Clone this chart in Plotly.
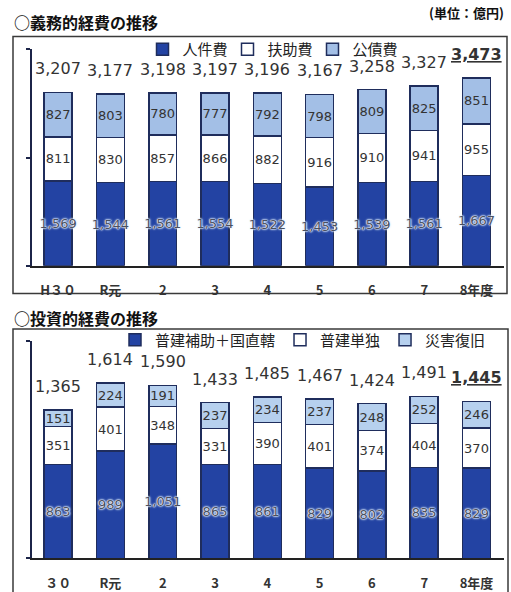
import plotly.graph_objects as go

# ---- data ----
cats_top = ["H３０", "R元", "2", "3", "4", "5", "6", "7", "8年度"]
jinkenhi = [1569, 1544, 1561, 1554, 1522, 1453, 1539, 1561, 1667]
fujohi = [811, 830, 857, 866, 882, 916, 910, 941, 955]
kosaihi = [827, 803, 780, 777, 792, 798, 809, 825, 851]
totals_top = [3207, 3177, 3198, 3197, 3196, 3167, 3258, 3327, 3473]

cats_bot = ["３０", "R元", "2", "3", "4", "5", "6", "7", "8年度"]
hojo = [863, 989, 1051, 865, 861, 829, 802, 835, 829]
tandoku = [351, 401, 348, 331, 390, 401, 374, 404, 370]
saigai = [151, 224, 191, 237, 234, 237, 248, 252, 246]
totals_bot = [1365, 1614, 1590, 1433, 1485, 1467, 1424, 1491, 1445]

# ---- styles ----
W, H = 511, 592
DARK = "#2343a3"
LIGHT_TOP = "#a3bfe6"
LIGHT_BOT = "#b6d0ee"
EDGE = "#1f2d5c"
NUM_FONT = "DejaVu Sans"
JP_FONT = "Noto Sans CJK JP"

def px_x(p):
    return p / W

def px_y(p):
    return (H - p) / H

def fmt(vals):
    return [f"{v:,}" for v in vals]

glow = ("0px 0px 1px #f0f6ff, 0px 0px 1px #f0f6ff, 0px 0px 2px #e4efff, "
        "0px 0px 2px #e4efff, 0px 0px 3px #cfe2ff")

def seg(name, x, y, color, xa, ya, legend, dark=False):
    return go.Bar(
        name=name, x=x, y=y, xaxis=xa, yaxis=ya, legend=legend,
        marker=dict(color=color, line=dict(color=EDGE, width=1.5)),
        text=fmt(y), textposition="inside", insidetextanchor="middle",
        constraintext="none", textangle=0,
        textfont=dict(family=NUM_FONT, size=13,
                      color="#4a5060" if dark else "#333333",
                      shadow=glow if dark else "none"),
        hoverinfo="skip",
    )

fig = go.Figure()
fig.add_trace(seg("人件費", cats_top, jinkenhi, DARK, "x", "y", "legend", True))
fig.add_trace(seg("扶助費", cats_top, fujohi, "#ffffff", "x", "y", "legend"))
fig.add_trace(seg("公債費", cats_top, kosaihi, LIGHT_TOP, "x", "y", "legend"))
fig.add_trace(seg("普建補助＋国直轄", cats_bot, hojo, DARK, "x2", "y2", "legend2", True))
fig.add_trace(seg("普建単独", cats_bot, tandoku, "#ffffff", "x2", "y2", "legend2"))
fig.add_trace(seg("災害復旧", cats_bot, saigai, LIGHT_BOT, "x2", "y2", "legend2"))

annotations = []
for i, (c, t) in enumerate(zip(cats_top, totals_top)):
    txt = f"{t:,}"
    if i == len(cats_top) - 1:
        txt = f"<b><u>{txt}</u></b>"
    annotations.append(dict(x=c, y=t, xref="x", yref="y", text=txt, showarrow=False,
                            yanchor="bottom", yshift=12,
                            font=dict(family=NUM_FONT, size=16, color="#333333")))
for i, (c, t) in enumerate(zip(cats_bot, totals_bot)):
    txt = f"{t:,}"
    if i == len(cats_bot) - 1:
        txt = f"<b><u>{txt}</u></b>"
    annotations.append(dict(x=c, y=t, xref="x2", yref="y2", text=txt, showarrow=False,
                            yanchor="bottom", yshift=12,
                            font=dict(family=NUM_FONT, size=16, color="#333333")))

annotations += [
    dict(x=px_x(12), y=px_y(22), xref="paper", yref="paper", xanchor="left", yanchor="middle",
         text="<b>○義務的経費の推移</b>", showarrow=False,
         font=dict(family=JP_FONT, size=16, color="#111111")),
    dict(x=px_x(506), y=px_y(13), xref="paper", yref="paper", xanchor="right", yanchor="middle",
         text="<b>(単位：億円)</b>", showarrow=False,
         font=dict(family=JP_FONT, size=13, color="#111111")),
    dict(x=px_x(12), y=px_y(322), xref="paper", yref="paper", xanchor="left", yanchor="middle",
         text="<b>○投資的経費の推移</b>", showarrow=False,
         font=dict(family=JP_FONT, size=16, color="#111111")),
]

shapes = [
    dict(type="rect", xref="paper", yref="paper", x0=px_x(13), x1=px_x(507),
         y0=px_y(297), y1=px_y(37), line=dict(color="#3a3a3a", width=1.5), layer="below"),
    dict(type="rect", xref="paper", yref="paper", x0=px_x(13), x1=px_x(508),
         y0=px_y(600), y1=px_y(333), line=dict(color="#3a3a3a", width=1.5), layer="below"),
]

xdom = [px_x(32), px_x(504)]
xcommon = dict(domain=xdom, showline=True, linecolor="#222222", linewidth=2, ticks="",
               showgrid=False, ticklabelstandoff=12,
               tickfont=dict(family=JP_FONT, size=13, color="#333333", weight="bold"),
               fixedrange=True)
ycommon = dict(showline=True, linecolor="#1c2448", linewidth=2, ticks="outside",
               ticklen=4, tickwidth=2, tickcolor="#1c2448", showticklabels=False,
               showgrid=False, zeroline=False, fixedrange=True)

fig.update_layout(
    width=W, height=H, margin=dict(l=0, r=0, t=0, b=0),
    paper_bgcolor="white", plot_bgcolor="white",
    barmode="stack", bargap=0.466,
    showlegend=True,
    xaxis=dict(anchor="y", **xcommon),
    xaxis2=dict(anchor="y2", **xcommon),
    yaxis=dict(anchor="x", domain=[px_y(269), px_y(50)], range=[0, 4000],
               tickvals=[0, 2000, 4000], **ycommon),
    yaxis2=dict(anchor="x2", domain=[px_y(565), px_y(345)], range=[0, 2000],
                tickvals=[0, 2000], **ycommon),
    legend=dict(orientation="h", x=px_x(270), y=px_y(50), xanchor="center", yanchor="middle",
                bgcolor="rgba(0,0,0,0)", font=dict(family=JP_FONT, size=15, color="#222222"),
                entrywidth=40, entrywidthmode="pixels",
                traceorder="normal", itemclick=False, itemdoubleclick=False),
    legend2=dict(orientation="h", x=px_x(303), y=px_y(344), xanchor="center", yanchor="middle",
                 bgcolor="rgba(0,0,0,0)", font=dict(family=JP_FONT, size=15, color="#222222"),
                 traceorder="normal", itemclick=False, itemdoubleclick=False),
    annotations=annotations,
    shapes=shapes,
    font=dict(family=NUM_FONT),
)

fig.write_html("out.html", config={"displayModeBar": False})
